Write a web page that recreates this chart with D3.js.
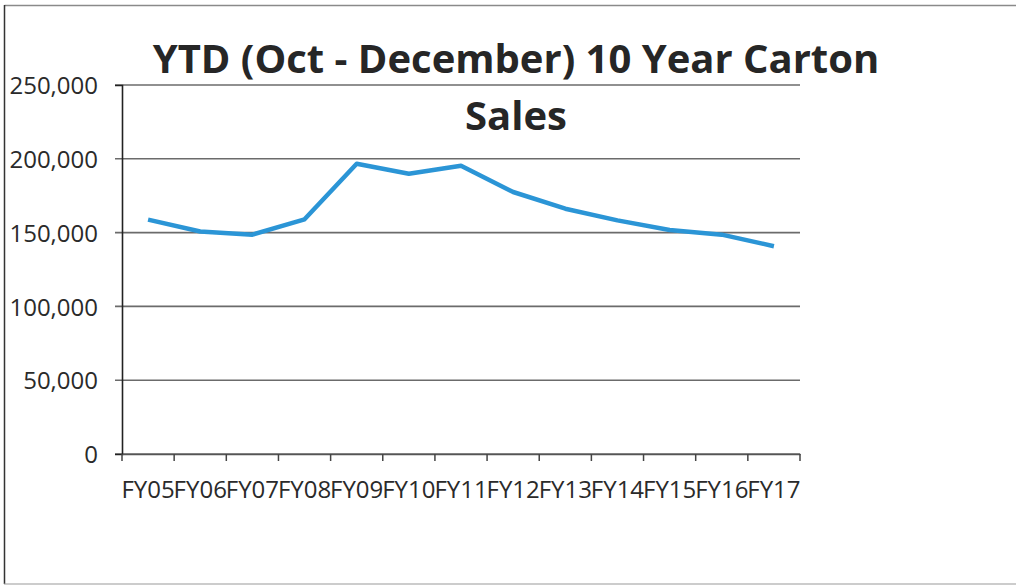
<!DOCTYPE html>
<html>
<head>
<meta charset="utf-8">
<script src="https://cdn.jsdelivr.net/npm/d3@7"></script>
<style>
  body { margin: 0; background: #fff; }
  svg { display: block; }
</style>
</head>
<body>
<div id="chart"></div>
<script>
var years = ["FY05","FY06","FY07","FY08","FY09","FY10","FY11","FY12","FY13","FY14","FY15","FY16","FY17"]
var cartons = [158800, 150700, 148600, 159000, 196600, 189900, 195300, 177500, 166200, 158300, 151800, 148600, 140800]
var yTicks = [0, 50000, 100000, 150000, 200000, 250000]
var titleLines = ["YTD (Oct - December) 10 Year Carton", "Sales"]

var W = 1016, H = 586
var margin = {top: 85, right: 216, bottom: 132, left: 122},
    width = W - margin.left - margin.right,
    height = H - margin.top - margin.bottom

var svg = d3.select("#chart").append("svg")
    .attr("width", W)
    .attr("height", H)

// outer frame
svg.append("line").attr("x1", 4.5).attr("x2", W).attr("y1", 5.5).attr("y2", 5.5)
    .attr("stroke", "#8a8a8a").attr("stroke-width", 1.5)
svg.append("line").attr("x1", 4.5).attr("x2", 4.5).attr("y1", 5).attr("y2", 584)
    .attr("stroke", "#333").attr("stroke-width", 1.5)
svg.append("line").attr("x1", 4).attr("x2", W).attr("y1", 584).attr("y2", 584)
    .attr("stroke", "#9a9a9a").attr("stroke-width", 1.2)

var g = svg.append("g")
    .attr("transform", "translate(" + margin.left + "," + margin.top + ")")

var x = d3.scaleBand()
    .domain(years)
    .range([0, width])

var y = d3.scaleLinear()
    .domain([0, 250000])
    .range([height, 0])

// gridlines
g.selectAll(".grid")
    .data(yTicks)
    .enter().append("line")
    .attr("class", "grid")
    .attr("x1", -7)
    .attr("x2", width)
    .attr("y1", d => y(d))
    .attr("y2", d => y(d))
    .attr("stroke", "#6b6b6b")
    .attr("stroke-width", 1.6)

// y axis
var yAxis = g.append("g")
    .call(d3.axisLeft(y).tickValues(yTicks).tickSize(7).tickPadding(17)
        .tickFormat(d3.format(",")))
yAxis.select(".domain").attr("stroke", "#222").attr("stroke-width", 1.6)
yAxis.selectAll(".tick line").remove()
yAxis.selectAll("text")
    .attr("fill", "#2a2a2a")
    .style("font-family", "'Open Sans', sans-serif")
    .style("font-size", "24px")
    .attr("dy", "0.36em")

// x axis
var xAxis = g.append("g")
    .attr("transform", "translate(0," + height + ")")
    .call(d3.axisBottom(x).tickSize(0).tickPadding(0))
xAxis.select(".domain").attr("stroke", "#555").attr("stroke-width", 1.6)
xAxis.selectAll("text")
    .attr("fill", "#2a2a2a")
    .attr("y", 44)
    .attr("dy", 0)
    .style("font-family", "'Open Sans', sans-serif")
    .style("font-size", "24px")

// x tick marks on band edges
var edges = years.map(d => x(d)).concat([width])
xAxis.selectAll(".edge")
    .data(edges)
    .enter().append("line")
    .attr("class", "edge")
    .attr("x1", d => d).attr("x2", d => d)
    .attr("y1", 0).attr("y2", 7)
    .attr("stroke", "#444").attr("stroke-width", 1.5)

// data line
var line = d3.line()
    .x((d, i) => x(years[i]) + x.bandwidth() / 2)
    .y(d => y(d))

g.append("path")
    .datum(cartons)
    .attr("fill", "none")
    .attr("stroke", "#2b95d6")
    .attr("stroke-width", 4.5)
    .attr("stroke-linejoin", "round")
    .attr("d", line)

// title
svg.selectAll(".title")
    .data(titleLines)
    .enter().append("text")
    .attr("class", "title")
    .attr("x", 516)
    .attr("y", (d, i) => 73 + i * 57)
    .attr("text-anchor", "middle")
    .attr("fill", "#262626")
    .style("font-family", "'Open Sans', sans-serif")
    .style("font-weight", "bold")
    .style("font-size", "40px")
    .text(d => d)
</script>
</body>
</html>
